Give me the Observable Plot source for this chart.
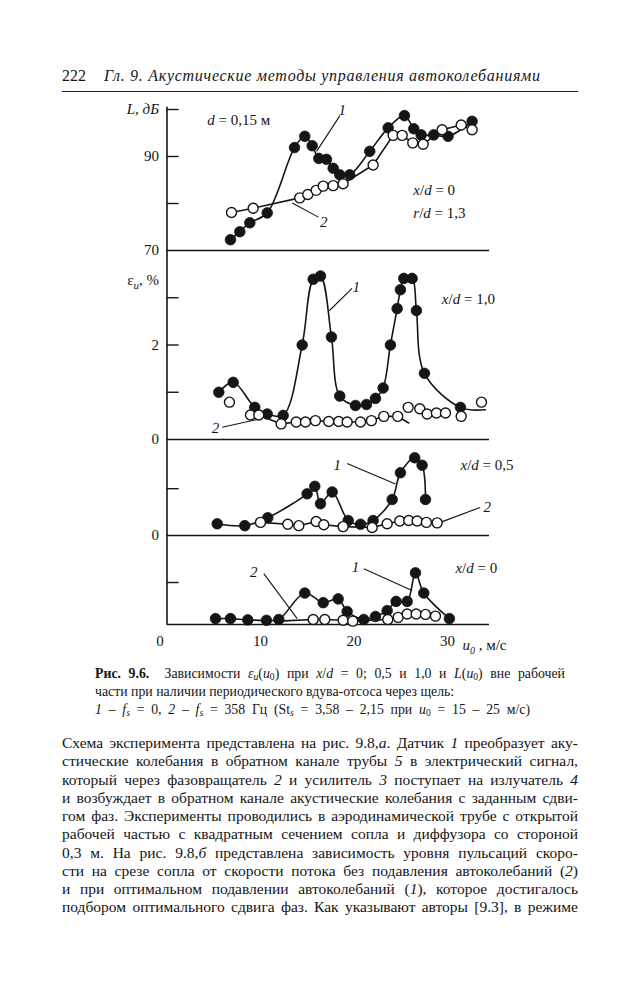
<!DOCTYPE html>
<html><head><meta charset="utf-8">
<script src="https://cdn.jsdelivr.net/npm/d3@7"></script>
<script src="https://cdn.jsdelivr.net/npm/@observablehq/plot@0.6"></script>
<style>
body{margin:0;background:#fff;}
#page{position:relative;width:639px;height:1000px;overflow:hidden;font-family:"Liberation Serif","DejaVu Serif",serif;color:#151515;background:#fff;}
.abs{position:absolute;}
#hdr{left:62px;top:67px;font-size:16px;white-space:nowrap;}
#hdrTitle{position:absolute;left:104px;top:67px;font-size:16px;font-style:italic;white-space:nowrap;}
#rule{left:62px;top:91px;width:516px;border-top:1.6px solid #222;}
#cap{left:95px;top:665px;width:470px;font-size:13.8px;line-height:18px;}
#cap div{white-space:nowrap;}
#cap .j{text-align:justify;text-align-last:justify;white-space:normal;}
#cap3{display:inline-block;}
sub{font-size:70%;vertical-align:-0.25em;line-height:0;}
#body{left:62px;top:734px;width:516px;font-size:15.5px;line-height:18.25px;}
#body div{text-align:justify;text-align-last:justify;white-space:nowrap;}
</style></head><body><div id="page">
<div class="abs" id="hdr">222</div>
<div id="hdrTitle">Гл. 9. Акустические методы управления автоколебаниями</div>
<div class="abs" id="rule"></div>
<div class="abs" id="cap">
<div class="j"><b>Рис. 9.6.</b>&nbsp; Зависимости <i>ε<sub>u</sub></i>(<i>u</i><sub>0</sub>) при <i>x</i>/<i>d</i> = 0; 0,5 и 1,0 и <i>L</i>(<i>u</i><sub>0</sub>) вне рабочей</div>
<div>части при наличии периодического вдува-отсоса через щель:</div>
<div><span id="cap3"><i>1</i> – <i>f<sub>s</sub></i> = 0, <i>2</i> – <i>f<sub>s</sub></i> = 358 Гц (St<sub><i>s</i></sub> = 3,58 – 2,15 при <i>u</i><sub>0</sub> = 15 – 25 м/с)</span></div>
</div>
<div class="abs" id="body">
<div>Схема эксперимента представлена на рис. 9.8,<i>а</i>. Датчик <i>1</i> преобразует аку-</div>
<div>стические колебания в обратном канале трубы <i>5</i> в электрический сигнал,</div>
<div>который через фазовращатель <i>2</i> и усилитель <i>3</i> поступает на излучатель <i>4</i></div>
<div>и возбуждает в обратном канале акустические колебания с заданным сдви-</div>
<div>гом фаз. Эксперименты проводились в аэродинамической трубе с открытой</div>
<div>рабочей частью с квадратным сечением сопла и диффузора со стороной</div>
<div>0,3 м. На рис. 9.8,<i>б</i> представлена зависимость уровня пульсаций скоро-</div>
<div>сти на срезе сопла от скорости потока без подавления автоколебаний (<i>2</i>)</div>
<div>и при оптимальном подавлении автоколебаний (<i>1</i>), которое достигалось</div>
<div>подбором оптимального сдвига фаз. Как указывают авторы [9.3], в режиме</div>
</div>
</div>
<script>
// ---------- data ----------
const xDomain = [0, 34.5];
const xTicks = [0, 10, 20, 30];

// Panel 1: L(u0), dB, d = 0.15 m
const L_u1 = [6.79, 7.79, 8.86, 10.72, 13.64, 14.74, 15.53, 16.24, 17.06, 17.78, 18.48, 19.55, 21.69, 23.66, 25.4, 26.4, 27.19, 28.53, 30.07, 32.64];
const L_v1 = [72.3, 74.0, 75.9, 78.0, 91.9, 94.3, 92.3, 89.6, 89.4, 87.5, 86.1, 86.1, 91.1, 96.1, 98.7, 95.9, 94.6, 94.6, 94.3, 97.5];
const L_u2 = [6.9, 9.22, 14.2, 15.06, 15.96, 16.71, 17.78, 18.84, 22.05, 24.19, 25.16, 26.29, 27.4, 29.43, 31.47, 32.64];
const L_v2 = [78.1, 79.0, 81.2, 81.9, 82.8, 83.7, 83.8, 84.2, 88.2, 94.5, 94.5, 92.9, 92.6, 95.7, 96.7, 95.7];
const L_ticks = [80, 90, 100];

// Panel 2: eps_u, %, x/d = 1.0
const e10_u1 = [5.54, 7.08, 9.39, 10.72, 12.43, 14.46, 15.64, 16.42, 17.59, 18.48, 20.16, 21.34, 22.30, 23.12, 23.9, 24.62, 24.97, 25.33, 26.22, 26.68, 27.54, 31.39];
const e10_v1 = [1.00, 1.21, 0.68, 0.54, 0.51, 2.00, 3.39, 3.46, 2.17, 0.92, 0.72, 0.74, 0.87, 1.09, 2.00, 2.77, 3.17, 3.41, 3.41, 2.73, 1.40, 0.68];
const e10_u2 = [6.68, 8.93, 9.82, 12.21, 13.82, 14.81, 15.88, 17.30, 18.37, 19.27, 20.70, 21.87, 23.19, 24.68, 25.80, 27.04, 27.83, 28.82, 29.79, 31.47, 33.64];
const e10_v2 = [0.79, 0.52, 0.52, 0.33, 0.37, 0.37, 0.40, 0.38, 0.38, 0.37, 0.37, 0.40, 0.49, 0.49, 0.68, 0.65, 0.54, 0.56, 0.56, 0.49, 0.79];
const e10_line1End = [34.06, 0.63];
const e10_line2End = [25.86, 0.35];
const e10_ticks = [1, 2, 3];

// Panel 3: eps_u, %, x/d = 0.5
const e05_u1 = [5.37, 8.32, 10.78, 14.99, 15.81, 16.42, 17.67, 19.38, 20.70, 22.05, 24.09, 24.97, 26.5, 27.29, 27.65];
const e05_v1 = [0.25, 0.21, 0.38, 0.89, 1.05, 0.68, 0.93, 0.32, 0.24, 0.32, 0.77, 1.34, 1.66, 1.50, 0.77];
const e05_u2 = [10.0, 12.92, 14.1, 15.96, 16.77, 18.84, 21.95, 23.55, 24.9, 25.86, 26.76, 27.75, 28.9];
const e05_v2 = [0.28, 0.24, 0.21, 0.30, 0.23, 0.19, 0.17, 0.25, 0.31, 0.32, 0.31, 0.28, 0.27];
const e05_ticks = [1];

// Panel 4: eps_u, %, x/d = 0
const e0_u1 = [5.19, 6.79, 8.64, 10.64, 11.96, 14.74, 16.71, 18.31, 19.27, 21.05, 22.3, 23.55, 24.51, 25.69, 26.58, 27.47, 30.21];
const e0_v1 = [0.14, 0.14, 0.11, 0.10, 0.12, 0.75, 0.52, 0.61, 0.31, 0.12, 0.19, 0.33, 0.55, 0.55, 1.23, 0.75, 0.14];
const e0_u2 = [15.64, 16.88, 18.84, 19.87, 23.62, 24.73, 25.69, 26.65, 27.65, 28.72];
const e0_v2 = [0.12, 0.12, 0.10, 0.08, 0.12, 0.17, 0.25, 0.25, 0.24, 0.20];
const e0_line2Start = [11.96, 0.08];
const e0_ticks = [1];

// annotations (data units)
const notes1 = [{u: 4.3, v: 97.7, t: "d = 0,15 м"}, {u: 26.35, v: 82.8, t: "x/d = 0"}, {u: 26.35, v: 77.9, t: "r/d = 1,3"}];
const notes2 = [{u: 29.4, v: 2.98, t: "x/d = 1,0"}];
const notes3 = [{u: 31.4, v: 1.50, t: "x/d = 0,5"}];
const notes4 = [{u: 30.85, v: 1.33, t: "x/d = 0"}];
const nums1 = [{u: 18.74, v: 99.8, t: "1"}, {u: 16.77, v: 76.0, t: "2"}];
const nums2 = [{u: 20.24, v: 3.22, t: "1"}, {u: 5.19, v: 0.23, t: "2"}];
const nums3 = [{u: 18.2, v: 1.50, t: "1"}, {u: 34.25, v: 0.60, t: "2"}];
const nums4 = [{u: 9.28, v: 1.25, t: "2"}, {u: 20.16, v: 1.36, t: "1"}];
const leaders1 = [{x1: 18.5, y1: 98.7, x2: 16.0, y2: 91.1}, {x1: 16.2, y1: 77.1, x2: 13.4, y2: 80.1}];
const leaders2 = [{x1: 19.8, y1: 3.20, x2: 17.38, y2: 2.73}, {x1: 5.9, y1: 0.26, x2: 10.0, y2: 0.44}];
const leaders3 = [{x1: 19.27, y1: 1.54, x2: 24.44, y2: 1.10}, {x1: 33.5, y1: 0.60, x2: 29.25, y2: 0.28}];
const leaders4 = [{x1: 10.35, y1: 1.21, x2: 13.93, y2: 0.14}, {x1: 21.05, y1: 1.33, x2: 26.22, y2: 0.81}];
const xLabel = {u: 31.6, t: "u0, м/с"};

// ---------- helpers ----------
const zip = (a, b) => a.map((x, i) => ({x, y: b[i]}));
const pt = (p) => ({x: p[0], y: p[1]});

const rich = {
  "d = 0,15 м": '<tspan font-style="italic">d</tspan> = 0,15 м',
  "x/d = 0": '<tspan font-style="italic">x</tspan>/<tspan font-style="italic">d</tspan> = 0',
  "r/d = 1,3": '<tspan font-style="italic">r</tspan>/<tspan font-style="italic">d</tspan> = 1,3',
  "x/d = 1,0": '<tspan font-style="italic">x</tspan>/<tspan font-style="italic">d</tspan> = 1,0',
  "x/d = 0,5": '<tspan font-style="italic">x</tspan>/<tspan font-style="italic">d</tspan> = 0,5',
  "L, дБ": '<tspan font-style="italic">L, дБ</tspan>',
  "εu, %": 'ε<tspan font-style="italic" font-size="11" dy="4">u</tspan><tspan dy="-4">, %</tspan>',
  "u0, м/с": '<tspan font-style="italic">u</tspan><tspan font-style="italic" font-size="10" dy="4">0</tspan><tspan dy="-4"> , м/с</tspan>'
};

function panel(cfg) {
  const {top, height, marginTop = 0, marginBottom = 0, yDomain, axisTop, ticks, labels,
         line1, line2, dots1, dots2, notes, nums, leaders, curve1 = "catmull-rom", xAxis = false} = cfg;
  const ink = "#151515";
  const marks = [
    Plot.ruleX([0], {y1: yDomain[0], y2: axisTop, stroke: ink, strokeWidth: 1.6}),
    Plot.ruleY([yDomain[0]], {x1: xDomain[0], x2: xDomain[1], stroke: ink, strokeWidth: 1.6}),
    Plot.ruleY(ticks, {x1: 0, x2: 1.3, stroke: ink, strokeWidth: 1.4}),
    Plot.text(labels, {x: 0, y: "v", text: "t", dx: -8, textAnchor: "end", fontSize: 15, fill: ink}),
    Plot.line(line1, {x: "x", y: "y", curve: curve1, stroke: ink, strokeWidth: 1.6}),
    Plot.line(line2, {x: "x", y: "y", stroke: ink, strokeWidth: 1.6}),
    Plot.link(leaders, {x1: "x1", y1: "y1", x2: "x2", y2: "y2", stroke: ink, strokeWidth: 1.1}),
    Plot.dot(dots1, {x: "x", y: "y", r: 5.3, fill: ink, stroke: ink, strokeWidth: 0.8}),
    Plot.dot(dots2, {x: "x", y: "y", r: 5, fill: "white", stroke: ink, strokeWidth: 1.4}),
    Plot.text(notes, {x: "u", y: "v", text: "t", textAnchor: "start", fontSize: 15, fill: ink}),
    Plot.text(nums, {x: "u", y: "v", text: "t", fontSize: 15, fontStyle: "italic", fill: ink})
  ];
  if (xAxis) {
    const zero = xTicks.filter(d => d === 0), rest = xTicks.filter(d => d !== 0);
    marks.push(Plot.text(zero, {x: d => d, y: yDomain[0], text: d => String(d), dx: -7, dy: 17, fontSize: 15, fill: ink}));
    marks.push(Plot.text(rest, {x: d => d, y: yDomain[0], text: d => String(d), dy: 17, fontSize: 15, fill: ink}));
    marks.push(Plot.text([xLabel], {x: "u", y: yDomain[0], text: "t", dy: 21, textAnchor: "start", fontSize: 15, fill: ink}));
  }
  const svg = Plot.plot({
    width: 639, height, marginLeft: 166.5, marginRight: 150, marginTop, marginBottom,
    x: {domain: xDomain, axis: null},
    y: {domain: yDomain, axis: null},
    style: {overflow: "visible", fontFamily: "'Liberation Serif', serif", fontSize: "15px", background: "transparent"},
    marks
  });
  d3.select(svg).selectAll("text").each(function () {
    const k = this.textContent;
    if (rich[k]) this.innerHTML = rich[k];
  });
  const wrap = document.createElement("div");
  wrap.className = "abs";
  wrap.style.left = "0px";
  wrap.style.top = top + "px";
  wrap.appendChild(svg);
  document.getElementById("page").appendChild(wrap);
}

panel({
  top: 100, height: 150, marginTop: 9, yDomain: [70, 100], axisTop: 100.5, ticks: L_ticks,
  labels: [{v: 70, t: "70"}, {v: 90, t: "90"}, {v: 100, t: "L, дБ"}],
  line1: zip(L_u1, L_v1), line2: zip(L_u2, L_v2), dots1: zip(L_u1, L_v1), dots2: zip(L_u2, L_v2),
  notes: notes1, nums: nums1, leaders: leaders1
});
panel({
  top: 250, height: 189, yDomain: [0, 4], axisTop: 4, ticks: e10_ticks,
  labels: [{v: 0, t: "0"}, {v: 2, t: "2"}, {v: 3.37, t: "εu, %"}],
  line1: [...zip(e10_u1, e10_v1), pt(e10_line1End)],
  line2: [...zip(e10_u2, e10_v2).slice(1, 14), pt(e10_line2End)],
  dots1: zip(e10_u1, e10_v1), dots2: zip(e10_u2, e10_v2),
  notes: notes2, nums: nums2, leaders: leaders2
});
panel({
  top: 439, height: 96, yDomain: [0, 2.05], axisTop: 2.05, ticks: e05_ticks,
  labels: [{v: 0, t: "0"}],
  line1: zip(e05_u1, e05_v1), line2: zip(e05_u2, e05_v2),
  dots1: zip(e05_u1, e05_v1), dots2: zip(e05_u2, e05_v2),
  notes: notes3, nums: nums3, leaders: leaders3
});
panel({
  top: 535, height: 119, marginBottom: 30, yDomain: [0, 2.12], axisTop: 2.12, ticks: e0_ticks,
  labels: [],
  line1: zip(e0_u1, e0_v1), line2: [pt(e0_line2Start), ...zip(e0_u2, e0_v2)],
  dots1: zip(e0_u1, e0_v1), dots2: zip(e0_u2, e0_v2),
  notes: notes4, nums: nums4, leaders: leaders4, xAxis: true
});

// fit printed widths
function fitLetters(el, target) {
  const w = el.getBoundingClientRect().width;
  const n = el.textContent.length;
  el.style.letterSpacing = ((target - w) / (n - 1)) + "px";
}
function fitWords(el, target) {
  const w = el.getBoundingClientRect().width;
  const n = (el.textContent.match(/ /g) || []).length;
  if (n > 0 && target > w) el.style.wordSpacing = ((target - w) / n) + "px";
}
fitLetters(document.getElementById("hdrTitle"), 436);
fitWords(document.getElementById("cap3"), 435);
</script>
</body></html>
